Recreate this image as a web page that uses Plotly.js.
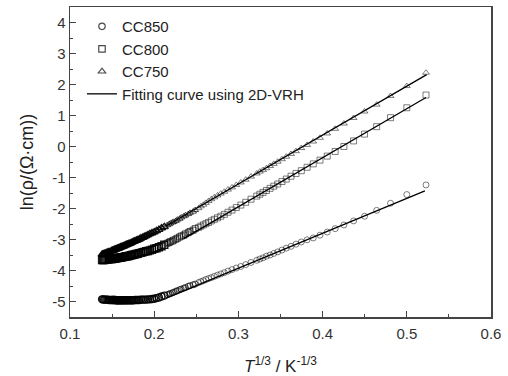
<!DOCTYPE html>
<html>
<head>
<meta charset="utf-8">
<script src="https://cdn.plot.ly/plotly-3.0.1.min.js"></script>
<style>html,body{margin:0;padding:0;background:#fff;}#chart{width:508px;height:376px;}</style>
</head>
<body>
<div id="chart"></div>
<script>
// T^(1/3) axis values (measurement points)
const xVals = [0.1381,0.1406,0.1433,0.1462,0.1494,0.1511,0.1529,0.1547,0.1567,0.1587,
  0.1610,0.1632,0.1657,0.1682,0.1710,0.1739,0.1771,0.1805,0.1842,0.1882,
  0.1926,0.1974,0.2027,0.2087,0.2154,0.2191,0.2231,0.2275,0.2321,0.2371,
  0.2426,0.2487,0.2554,0.2584,0.2614,0.2646,0.2679,0.2714,0.2752,0.2791,
  0.2833,0.2877,0.2924,0.2975,0.3029,0.3087,0.3150,0.3218,0.3255,0.3293,
  0.3333,0.3376,0.3420,0.3467,0.3517,0.3569,0.3625,0.3684,0.3747,0.3816,
  0.3889,0.3969,0.4055,0.4149,0.4253,0.4368,0.4498,0.4642,0.4807,0.5000,0.5228];
// extra (denser) measurement points in the high-temperature region
const xExtra = [0.1393,0.1419,0.1447,0.1478,0.1502,0.1520,0.1538,0.1557,0.1577,0.1598,
  0.1621,0.1644,0.1669,0.1696,0.1725,0.1755,0.1788,0.1823,0.1862,0.1904,
  0.1949,0.2000,0.2056,0.2120,0.2176,0.2215,0.2257,0.2302,0.2351,0.2404,0.2462,0.2527];

const cc850 = [-4.93,-4.94,-4.94,-4.95,-4.95,-4.95,-4.95,-4.96,-4.96,-4.96,
  -4.96,-4.96,-4.96,-4.96,-4.96,-4.96,-4.95,-4.95,-4.94,-4.94,
  -4.93,-4.92,-4.89,-4.84,-4.78,-4.74,-4.70,-4.65,-4.60,-4.55,
  -4.49,-4.44,-4.36,-4.33,-4.29,-4.26,-4.23,-4.19,-4.15,-4.11,
  -4.07,-4.02,-3.97,-3.92,-3.87,-3.81,-3.74,-3.67,-3.63,-3.59,
  -3.54,-3.50,-3.45,-3.40,-3.34,-3.28,-3.22,-3.15,-3.08,-3.01,
  -2.95,-2.86,-2.76,-2.65,-2.53,-2.40,-2.25,-2.06,-1.83,-1.55,-1.24];
const cc850Extra = [-4.93,-4.94,-4.94,-4.95,-4.95,-4.95,-4.95,-4.96,-4.96,-4.96,
  -4.96,-4.96,-4.96,-4.96,-4.96,-4.96,-4.95,-4.95,-4.94,-4.94,
  -4.93,-4.91,-4.87,-4.81,-4.76,-4.72,-4.67,-4.62,-4.57,-4.51,-4.46,-4.39];

const cc800 = [-3.66,-3.66,-3.65,-3.64,-3.63,-3.62,-3.62,-3.61,-3.60,-3.59,
  -3.58,-3.57,-3.55,-3.54,-3.52,-3.50,-3.48,-3.46,-3.43,-3.40,
  -3.37,-3.33,-3.28,-3.22,-3.12,-3.07,-3.02,-2.96,-2.89,-2.82,
  -2.74,-2.65,-2.57,-2.53,-2.49,-2.45,-2.40,-2.35,-2.30,-2.25,
  -2.19,-2.12,-2.05,-1.97,-1.89,-1.80,-1.70,-1.60,-1.54,-1.48,
  -1.42,-1.35,-1.28,-1.21,-1.13,-1.05,-0.96,-0.87,-0.78,-0.67,
  -0.56,-0.44,-0.31,-0.16,0.00,0.18,0.40,0.64,0.93,1.25,1.66];
const cc800Extra = [-3.66,-3.65,-3.64,-3.63,-3.63,-3.62,-3.61,-3.60,-3.59,-3.58,
  -3.57,-3.56,-3.54,-3.53,-3.51,-3.49,-3.47,-3.44,-3.41,-3.38,
  -3.35,-3.30,-3.25,-3.17,-3.10,-3.05,-2.99,-2.92,-2.86,-2.78,-2.70,-2.61];

const cc750 = [-3.48,-3.46,-3.43,-3.40,-3.37,-3.35,-3.33,-3.31,-3.29,-3.27,
  -3.24,-3.22,-3.19,-3.16,-3.13,-3.09,-3.05,-3.01,-2.96,-2.91,
  -2.85,-2.79,-2.72,-2.63,-2.54,-2.48,-2.43,-2.36,-2.29,-2.22,
  -2.14,-2.05,-1.93,-1.88,-1.82,-1.76,-1.70,-1.64,-1.58,-1.52,
  -1.46,-1.39,-1.32,-1.24,-1.16,-1.07,-0.97,-0.87,-0.81,-0.76,
  -0.70,-0.63,-0.56,-0.49,-0.41,-0.33,-0.24,-0.15,-0.05,0.05,
  0.16,0.28,0.42,0.57,0.74,0.92,1.13,1.35,1.63,1.95,2.38];
const cc750Extra = [-3.47,-3.45,-3.42,-3.39,-3.36,-3.34,-3.32,-3.30,-3.28,-3.25,
  -3.23,-3.20,-3.17,-3.14,-3.11,-3.07,-3.03,-2.99,-2.94,-2.88,
  -2.82,-2.76,-2.68,-2.59,-2.51,-2.45,-2.40,-2.33,-2.25,-2.18,-2.10,-1.99];

// 2D-VRH fitting lines (end points)
const fit850X = [0.215, 0.5215], fit850Y = [-4.88, -1.43];
const fit800X = [0.235, 0.5228], fit800Y = [-2.97, 1.58];
const fit750X = [0.215, 0.5236], fit750Y = [-2.55, 2.32];

const seriesNames = ['CC850', 'CC800', 'CC750'];
const fitName = 'Fitting curve using 2D-VRH';

const xTickVals = [0.1, 0.2, 0.3, 0.4, 0.5, 0.6];
const xTickText = ['0.1', '0.2', '0.3', '0.4', '0.5', '0.6'];
const yTickVals = [-5, -4, -3, -2, -1, 0, 1, 2, 3, 4];
const yTickText = ['-5', '-4', '-3', '-2', '-1', '0', '1', '2', '3', '4'];

const FONT = 'Liberation Sans, Arial, sans-serif';
// where the points pile up the symbols merge into a dark band
function pointOpacity(x) { return x < 0.215 ? 0.9 : (x < 0.25 ? 0.7 : 0.5); }
function pointWidth(x) { return x < 0.215 ? 1.4 : 1; }
function pointSize(x) { return x < 0.215 ? 7 : 6; }
function markerTrace(name, y, yExtra, symbol) {
  // low-temperature (sparse) points first so the legend symbol takes their style
  const xs = xVals.slice().reverse().concat(xExtra);
  const ys = y.slice().reverse().concat(yExtra);
  return {
    type: 'scatter', mode: 'markers', name: name,
    x: xs, y: ys,
    marker: {symbol: symbol, size: xs.map(pointSize), color: '#000',
             opacity: xs.map(pointOpacity), line: {width: xs.map(pointWidth)}}
  };
}
function fitTrace(x, y, show) {
  return {
    type: 'scatter', mode: 'lines', name: fitName, x: x, y: y,
    legendgroup: 'fit', showlegend: show,
    line: {color: '#000', width: 1.3}
  };
}
const data = [
  markerTrace(seriesNames[0], cc850, cc850Extra, 'circle-open'),
  markerTrace(seriesNames[1], cc800, cc800Extra, 'square-open'),
  markerTrace(seriesNames[2], cc750, cc750Extra, 'triangle-up-open'),
  fitTrace(fit850X, fit850Y, true),
  fitTrace(fit800X, fit800Y, false),
  fitTrace(fit750X, fit750Y, false)
];
const axisCommon = {
  showgrid: false, zeroline: false, showline: true, mirror: true,
  linecolor: '#444', linewidth: 1.5, ticks: 'inside', ticklen: 6, tickwidth: 1,
  tickcolor: '#444', tickfont: {family: FONT, size: 15, color: '#333'}
};
const layout = {
  width: 508, height: 376,
  margin: {l: 70, r: 17, t: 7, b: 59},
  paper_bgcolor: '#fff', plot_bgcolor: '#fff',
  font: {family: FONT, color: '#222'},
  showlegend: true,
  legend: {x: 0.0285, y: 0.99, xanchor: 'left', yanchor: 'top', bgcolor: 'rgba(0,0,0,0)',
           font: {family: FONT, size: 15, color: '#222'}, tracegroupgap: 0},
  xaxis: Object.assign({}, axisCommon, {
    range: [0.1, 0.6], tickmode: 'array', tickvals: xTickVals, ticktext: xTickText,
    ticklabelstandoff: 2,
    minor: {dtick: 0.05, ticks: 'inside', ticklen: 3, tickcolor: '#444'},
    title: {text: '<i>T</i><sup>1/3</sup> / K<sup>-1/3</sup>', font: {family: FONT, size: 17, color: '#222'}, standoff: 21}
  }),
  yaxis: Object.assign({}, axisCommon, {
    range: [-5.5, 4.5], tickmode: 'array', tickvals: yTickVals, ticktext: yTickText,
    minor: {dtick: 0.5, ticks: 'inside', ticklen: 3, tickcolor: '#444'},
    title: {text: 'ln(ρ/(Ω·cm))', font: {family: FONT, size: 18, color: '#222'}, standoff: 14}
  })
};
Plotly.newPlot('chart', data, layout, {staticPlot: true, displayModeBar: false});
</script>
</body>
</html>
